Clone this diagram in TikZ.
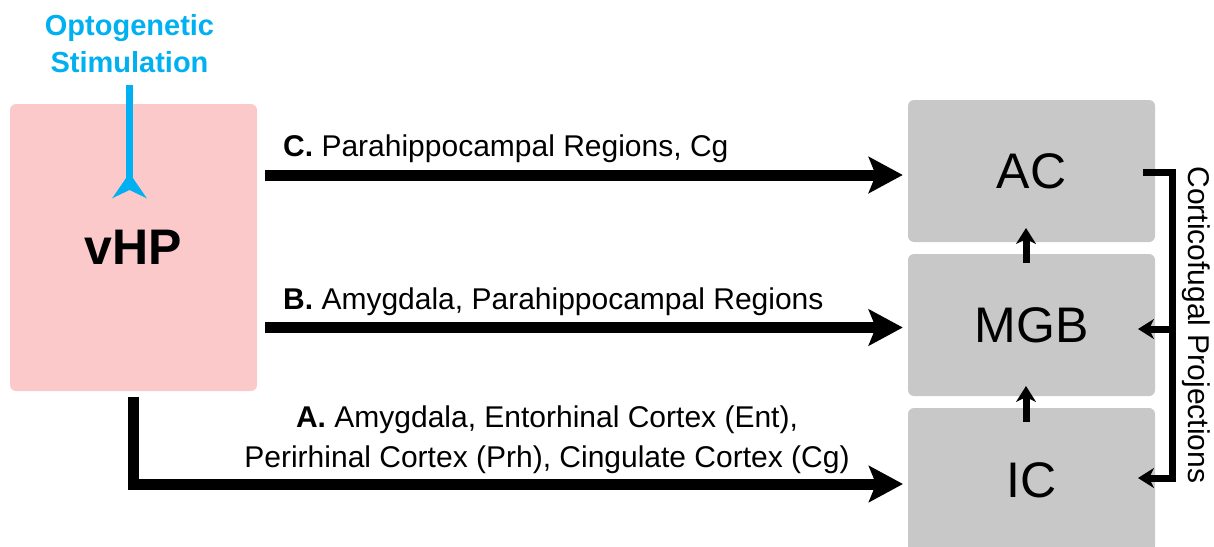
\documentclass[tikz,border=0pt]{standalone}
\usepackage{fontspec}
\setmainfont{Liberation Sans}
\usetikzlibrary{arrows.meta}
\definecolor{vhppink}{RGB}{252,201,203}
\definecolor{areagray}{RGB}{200,200,200}
\definecolor{optoblue}{RGB}{0,176,240}

\begin{document}
\begin{tikzpicture}[x=1pt,y=-1pt,line join=miter,
                    area node/.style={rectangle,rounded corners=6pt,fill=areagray,inner sep=0pt,
                      minimum width=247pt,minimum height=142pt,font=\fontsize{50}{60}\selectfont},
                    path label/.style={inner sep=0pt,font=\fontsize{30}{40}\selectfont},
                    input arrow/.style={line width=11pt,shorten >=5pt,
                      -{Stealth[length=34pt,width=36pt,inset=7pt]}},
                    relay arrow/.style={line width=7pt,-{Stealth[length=16pt,width=20pt,inset=5pt]}}]
  \clip (0,0) rectangle (1214,546);
  \useasboundingbox (0,0) rectangle (1214,546);

  \node[area node,fill=vhppink,minimum height=287pt,font=\fontsize{50}{60}\selectfont\bfseries] (vhp) at (133.5,247.5) {vHP};
  \node[area node] (ac) at (1031.5,171) {AC};
  \node[area node] (mgb) at (1031.5,325) {MGB};
  \node[area node,minimum height=144pt] (ic) at (1031.5,480) {IC};

  \node[path label,align=center,text=optoblue,font=\fontsize{29}{37}\selectfont\bfseries] (opto) at (129.5,43.5) {Optogenetic\\Stimulation};
  \coordinate (optotop) at (129.5,85);
  \coordinate (optoend) at (129.5,198);
  \draw[optoblue,line width=7.5pt,-{Stealth[reversed,length=25pt,width=34pt,inset=8pt]}] (optotop) -- (optoend);

  % inputs from vHP
  \coordinate (cstart) at (265,175);
  \coordinate (bstart) at (265,327.5);
  \coordinate (astart) at (133.5,397);
  \coordinate (aend) at (908,484);
  \draw[input arrow] (cstart) -- (cstart -| ac.west);
  \draw[input arrow] (bstart) -- (bstart -| mgb.west);
  \draw[input arrow] (astart) |- (aend);

  \node[path label,anchor=base west] (clabel) at (283,156) {\textbf{C.} Parahippocampal Regions, Cg};
  \node[path label,anchor=base west] (blabel) at (283,309) {\textbf{B.} Amygdala, Parahippocampal Regions};
  \node[path label,align=center] (alabel) at (547,440) {\textbf{A.} Amygdala, Entorhinal Cortex (Ent),\\Perirhinal Cortex (Prh), Cingulate Cortex (Cg)};

  % ascending relays
  \coordinate (icup) at (1026,422);
  \coordinate (mgbin) at (1026,386);
  \coordinate (mgbup) at (1026,263);
  \coordinate (acin) at (1026,228);
  \draw[relay arrow] (icup) -- (mgbin);
  \draw[relay arrow] (mgbup) -- (acin);

  % corticofugal loop
  \coordinate (acout) at (1143,172);
  \coordinate (loopjoin) at (1172,329);
  \coordinate (mgbback) at (1138,329);
  \coordinate (icback) at (1138,478);
  \draw[relay arrow] (acout) -- (1172,172) |- (icback);
  \draw[relay arrow] (loopjoin) -- (mgbback);
  \node[path label,rotate=-90] (cortico) at (1196,325) {Corticofugal Projections};
\end{tikzpicture}
\end{document}
